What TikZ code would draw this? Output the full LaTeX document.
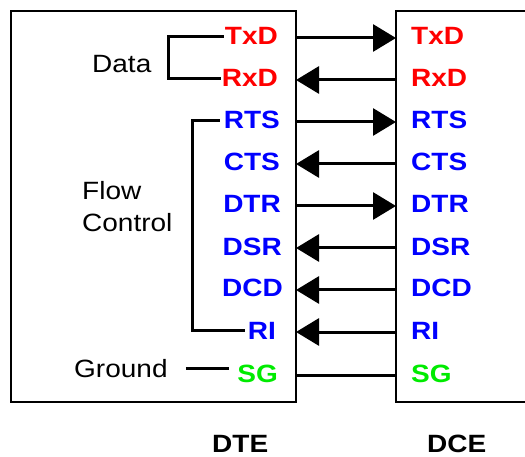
\documentclass[tikz,border=0pt]{standalone}
\usepackage{fontspec}
\setmainfont{Liberation Sans}
\usetikzlibrary{arrows.meta}
\definecolor{sigred}{RGB}{255,0,0}
\definecolor{sigblue}{RGB}{0,0,255}
\definecolor{siggreen}{RGB}{0,235,0}
\newcommand\hs[1]{\scalebox{1.12}[1]{#1}}
\tikzset{
  box/.style={line width=2.8pt},
  wire/.style={line width=3pt},
  fwd/.style={wire,-{Triangle[length=23pt,width=27pt]}},
  lab/.style={inner sep=0pt,font=\fontsize{25}{30}\selectfont\bfseries},
  lbl/.style={lab,anchor=base east},
  rbl/.style={lab,anchor=base west},
  note/.style={inner sep=0pt,font=\fontsize{25}{30}\selectfont,anchor=base west}
}
\begin{document}
\begin{tikzpicture}[x=1pt,y=-1pt]
\useasboundingbox[fill=white] (0,0) rectangle (525,457);
% boxes
\draw[box] (11,11) rectangle (296,402);
\draw[box] (526,11) -- (396,11) -- (396,402) -- (526,402);
% labels and edge points
\foreach \n/\t/\c/\y/\lx in {1/TxD/sigred/38/278, 2/RxD/sigred/80/278, 3/RTS/sigblue/122/280, 4/CTS/sigblue/164/280, 5/DTR/sigblue/206/281, 6/DSR/sigblue/248/282, 7/DCD/sigblue/290/283, 8/RI/sigblue/332/276, 9/SG/siggreen/375/278} {
  \node[lbl,text=\c] (L\n) at (\lx,\y+7) {\hs{\t}};
  \node[rbl,text=\c] (R\n) at (411,\y+7) {\hs{\t}};
  \coordinate (a\n) at (296,\y);
  \coordinate (b\n) at (396,\y);
}
% connectors
\draw[fwd] (a1) -- (b1);
\draw[fwd] (b2) -- (a2);
\draw[fwd] (a3) -- (b3);
\draw[fwd] (b4) -- (a4);
\draw[fwd] (a5) -- (b5);
\draw[fwd] (b6) -- (a6);
\draw[fwd] (b7) -- (a7);
\draw[fwd] (b8) -- (a8);
\draw[wire] (a9) -- (b9);
% group labels
\node[note] (data) at (92,73) {\hs{Data}};
\node[note] (flow) at (82,200) {\hs{Flow}};
\node[note] (ctrl) at (82,232) {\hs{Control}};
\node[note] (gnd) at (74,377) {\hs{Ground}};
\node[lbl,text=black,anchor=base west] (dte) at (212,452) {\hs{DTE}};
\node[lbl,text=black,anchor=base west] (dce) at (427,452) {\hs{DCE}};
% brackets
\coordinate (dx) at (168,0);
\coordinate (fx) at (192,0);
\draw[wire] ([xshift=-1pt]L1.west) -- (dx |- L1.west) -- (dx |- L2.west) -- ([xshift=-1pt]L2.west);
\draw[wire] ([xshift=-4pt]L3.west) -- (fx |- L3.west) -- (fx |- L8.west) -- ([xshift=-3pt]L8.west);
\draw[wire] ([xshift=18pt]gnd.east) -- ([xshift=-8pt]gnd.east -| L9.west);
\end{tikzpicture}
\end{document}
